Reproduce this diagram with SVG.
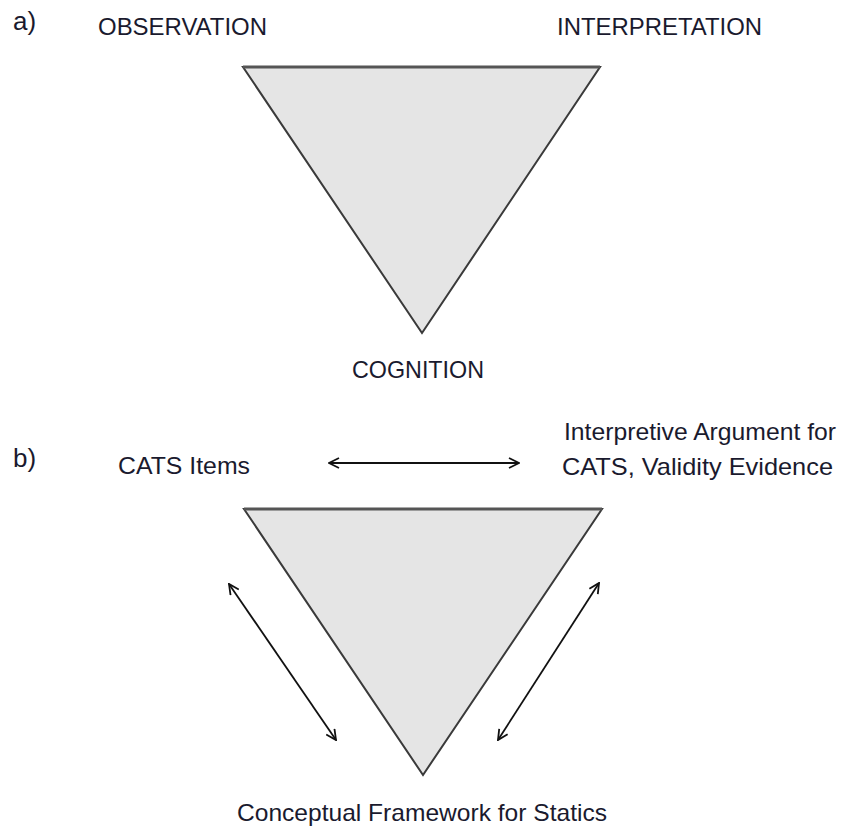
<svg xmlns="http://www.w3.org/2000/svg" width="841" height="826" viewBox="0 0 841 826">
<style>
.t{font-family:"Liberation Sans",Arial,sans-serif;font-size:24px;fill:#1a1a2e}
.lb{font-size:26px}
.tri{fill:#e5e5e5;stroke:#3a3a3a;stroke-width:2;stroke-linejoin:miter}
.top{stroke:#555;stroke-width:3}
.sh{stroke:#888;stroke-width:5;filter:url(#blur)}
.arr{stroke:#111;stroke-width:1.8;fill:none;marker-start:url(#ah);marker-end:url(#ah)}
</style>
<defs>
<filter id="blur" x="-5%" y="-200%" width="110%" height="500%"><feGaussianBlur stdDeviation="1.5"/></filter>
<marker id="ah" viewBox="0 0 12 12" refX="11" refY="6" markerWidth="12" markerHeight="12" markerUnits="userSpaceOnUse" orient="auto-start-reverse">
<path d="M1,1 L11,6 L1,11" fill="none" stroke="#111" stroke-width="1.8"/>
</marker>
</defs>
<rect width="841" height="826" fill="#fff"/>
<g id="label-a"><text class="t lb" x="13" y="30">a)</text></g>
<g id="triangle-a">
<line class="sh" x1="243" y1="66" x2="600" y2="66"/>
<polygon class="tri" points="243,67 600,67 422,333"/>
<line class="top" x1="243" y1="67" x2="600" y2="67"/>
</g>
<g id="observation"><text class="t" x="98" y="35" textLength="169" lengthAdjust="spacingAndGlyphs">OBSERVATION</text></g>
<g id="interpretation"><text class="t" x="557" y="35" textLength="205" lengthAdjust="spacingAndGlyphs">INTERPRETATION</text></g>
<g id="cognition"><text class="t" x="352" y="378" textLength="132" lengthAdjust="spacingAndGlyphs">COGNITION</text></g>
<g id="label-b"><text class="t lb" x="13" y="467">b)</text></g>
<g id="triangle-b">
<line class="sh" x1="244" y1="508" x2="602" y2="508"/>
<polygon class="tri" points="244,509 602,509 423,775"/>
<line class="top" x1="244" y1="509" x2="602" y2="509"/>
</g>
<g id="cats-items"><text class="t" x="118" y="474" textLength="132" lengthAdjust="spacingAndGlyphs">CATS Items</text></g>
<g id="interpretive"><text class="t" x="564" y="440" textLength="272" lengthAdjust="spacingAndGlyphs">Interpretive Argument for</text><text class="t" x="562" y="475" textLength="271" lengthAdjust="spacingAndGlyphs">CATS, Validity Evidence</text></g>
<g id="framework"><text class="t" x="237" y="821" textLength="370" lengthAdjust="spacingAndGlyphs">Conceptual Framework for Statics</text></g>
<g id="connectors">
<line class="arr" x1="329" y1="463" x2="519" y2="463"/>
<line class="arr" x1="229" y1="584" x2="336" y2="740"/>
<line class="arr" x1="599" y1="583" x2="498" y2="740"/>
</g>
</svg>
